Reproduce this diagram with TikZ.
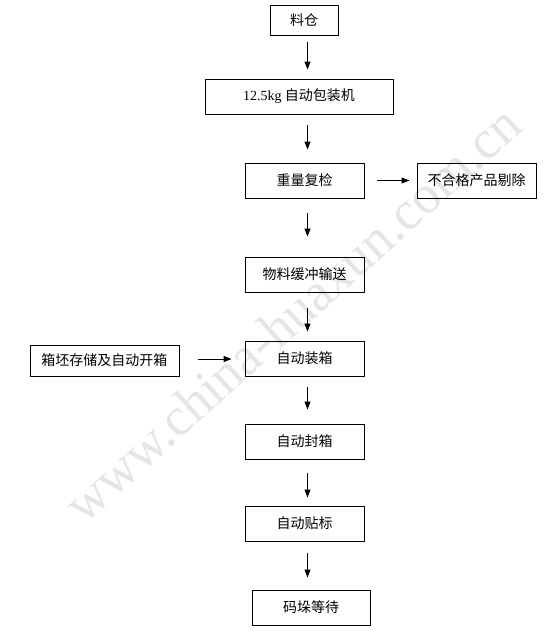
\documentclass[tikz,border=0pt]{standalone}
\usepackage{fontspec}
\setmainfont{Liberation Serif}
\newfontfamily\cjk{Noto Sans CJK SC}
\usetikzlibrary{arrows.meta}
\begin{document}
\begin{tikzpicture}[x=1pt,y=-1pt,
  box/.style={draw=black,line width=0.9pt,inner sep=0pt,minimum width=119pt,minimum height=35pt,font=\fontsize{14pt}{16pt}\selectfont\cjk},
  arr/.style={draw=black,line width=0.9pt,-{Triangle[length=8pt,width=6pt]}},
  wm/.style={text=black!10,font=\fontsize{54pt}{60pt}\selectfont}]
\useasboundingbox (0,0) rectangle (558,633);
\node[wm,rotate=42] (w) at (292,314) {www.china-huaxun.com.cn};
\node[box,minimum width=68pt,minimum height=30pt] (a) at (304,20) {料仓};
\node[box,minimum width=188pt] (b) at (299,96.5) {{\rmfamily 12.5kg} 自动包装机};
\node[box] (c) at (304.5,180.5) {重量复检};
\node[box] (d) at (476.5,180.5) {不合格产品剔除};
\node[box] (e) at (304.5,274.5) {物料缓冲输送};
\node[box] (f) at (304.5,358.5) {自动装箱};
\node[box,minimum width=149pt,minimum height=31pt] (g) at (104.5,360.5) {箱坯存储及自动开箱};
\node[box] (h) at (304.5,441.5) {自动封箱};
\node[box] (i) at (304.5,523.5) {自动贴标};
\node[box,minimum width=118pt] (j) at (311,607.5) {码垛等待};
\coordinate (ax) at (307.5,0);
\draw[arr,shorten <=7pt,shorten >=9pt] (a.south -| ax) -- (b.north -| ax);
\draw[arr,shorten <=11pt,shorten >=13pt] (b.south -| ax) -- (c.north -| ax);
\draw[arr,shorten <=15pt,shorten >=20pt] (c.south -| ax) -- (e.north -| ax);
\draw[arr,shorten <=16pt,shorten >=9pt] (e.south -| ax) -- (f.north -| ax);
\draw[arr,shorten <=11pt,shorten >=14pt] (f.south -| ax) -- (h.north -| ax);
\draw[arr,shorten <=14pt,shorten >=8pt] (h.south -| ax) -- (i.north -| ax);
\draw[arr,shorten <=12pt,shorten >=12pt] (i.south -| ax) -- (j.north -| ax);
\draw[arr,shorten <=13pt,shorten >=7pt] (c.east) -- (d.west);
\draw[arr,shorten <=19pt,shorten >=13pt] ([yshift=1.5pt]g.east) -- ([yshift=1.5pt]g.east -| f.west);
\end{tikzpicture}
\end{document}
